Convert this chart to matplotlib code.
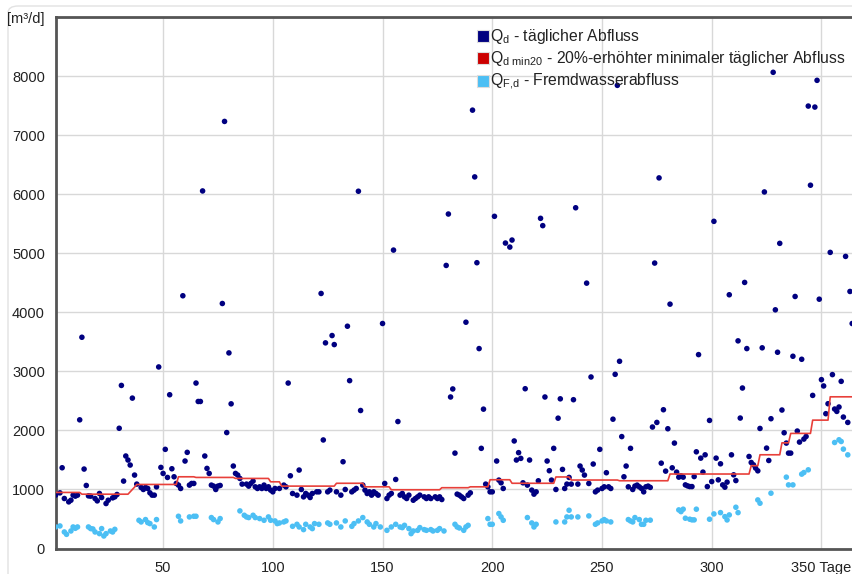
import numpy as np
import matplotlib
matplotlib.use("Agg")
import matplotlib.pyplot as plt
from matplotlib.lines import Line2D
from matplotlib.patches import FancyBboxPatch

plt.rcParams['font.family'] = ['Liberation Sans', 'DejaVu Sans']
plt.rcParams['mathtext.fontset'] = 'custom'
plt.rcParams['mathtext.rm'] = 'Liberation Sans'
plt.rcParams['mathtext.it'] = 'Liberation Sans'

# daily outflow Q_d [m³/d]
qd_days = [1, 3, 4, 5, 7, 8, 9, 10, 11, 12, 13, 14, 15, 16, 17, 19, 20, 21, 22, 24, 25, 27, 28, 29, 30,
           31, 32, 33, 34, 35, 36, 37, 38, 40, 41, 42, 43, 44, 45, 46, 47, 48, 49, 50, 51, 52, 53, 54, 55,
           56, 57, 58, 59, 60, 61, 62, 63, 64, 65, 66, 67, 68, 69, 70, 71, 72, 73, 74, 75, 76, 77, 78, 79,
           80, 81, 82, 83, 84, 85, 86, 88, 89, 90, 91, 92, 93, 94, 95, 96, 97, 98, 99, 100, 101, 103, 105,
           106, 107, 108, 109, 111, 112, 113, 114, 115, 116, 117, 118, 120, 121, 122, 123, 124, 125, 126,
           127, 128, 129, 131, 132, 133, 134, 135, 136, 137, 138, 139, 140, 141, 142, 143, 144, 145, 146,
           147, 148, 150, 151, 152, 153, 154, 155, 156, 157, 158, 159, 160, 161, 162, 164, 165, 166, 167,
           169, 170, 171, 172, 174, 175, 176, 177, 179, 180, 181, 182, 183, 184, 185, 186, 187, 188, 189,
           190, 191, 192, 193, 194, 195, 196, 197, 198, 199, 200, 201, 202, 203, 204, 205, 206, 208, 209,
           210, 211, 212, 213, 214, 215, 216, 217, 218, 219, 220, 221, 222, 223, 224, 225, 226, 227, 228,
           229, 230, 231, 232, 233, 234, 235, 236, 237, 238, 239, 240, 241, 242, 243, 244, 245, 246, 247,
           248, 249, 250, 251, 252, 253, 254, 255, 256, 257, 258, 259, 260, 261, 262, 263, 264, 265, 266,
           267, 268, 269, 270, 271, 272, 273, 274, 275, 276, 277, 278, 279, 280, 281, 282, 283, 284, 285,
           286, 287, 288, 289, 290, 291, 292, 293, 294, 295, 296, 297, 298, 299, 300, 301, 302, 303, 304,
           305, 306, 307, 308, 309, 310, 311, 312, 313, 314, 315, 316, 317, 318, 319, 320, 321, 322, 323,
           324, 325, 326, 327, 328, 329, 330, 331, 332, 333, 334, 335, 336, 337, 338, 339, 340, 341, 342,
           343, 344, 345, 346, 347, 348, 349, 350, 351, 352, 353, 354, 355, 356, 357, 358, 359, 360, 361,
           362, 363, 364]
qd_values = [904, 943, 1368, 847, 790, 818, 904, 887, 904, 2180, 3579, 1346, 1068, 892, 887, 847, 807, 932,
             864, 762, 818, 858, 875, 915, 2037, 2763, 1142, 1567, 1499, 1414, 2548, 1244, 1091, 1034, 1000,
             1034, 1017, 943, 904, 904, 1045, 3076, 1374, 1272, 1680, 1204, 2605, 1351, 1215, 1102, 1074,
             1017, 4282, 1482, 1629, 1074, 1102, 1102, 2803, 2491, 2491, 6058, 1567, 1357, 1272, 1074, 1057,
             1000, 1057, 1068, 4151, 7236, 1964, 3314, 2451, 1397, 1272, 1244, 1187, 1091, 1091, 1057, 1102,
             1142, 1045, 1017, 1045, 1017, 1074, 1017, 1045, 989, 960, 1017, 1017, 1074, 1045, 2803, 1232,
             932, 904, 1329, 1000, 875, 932, 904, 864, 932, 960, 960, 4321, 1839, 3484, 960, 989, 3608, 3455,
             960, 904, 1470, 1000, 3766, 2844, 960, 989, 1017, 6053, 2338, 1074, 989, 932, 960, 904, 960,
             932, 904, 3812, 1102, 847, 904, 932, 5056, 1170, 2151, 904, 932, 875, 847, 904, 818, 847, 875,
             904, 875, 847, 875, 847, 875, 847, 875, 830, 4796, 5667, 2567, 2703, 1616, 921, 904, 875, 847,
             3834, 904, 943, 7427, 6296, 4842, 3387, 1697, 2361, 1091, 1045, 960, 960, 5628, 1482, 1159,
             1113, 1017, 5175, 5107, 5226, 1822, 1499, 1624, 1527, 1113, 2707, 1074, 1499, 989, 921, 960,
             1147, 5594, 5470, 2567, 1482, 1318, 1159, 1697, 1000, 2208, 2536, 1340, 1017, 1091, 1204, 1091,
             2521, 5773, 1091, 1397, 1329, 1244, 4496, 1102, 2906, 1431, 960, 989, 1680, 1017, 1045, 1284,
             1045, 1017, 2191, 2951, 7847, 3172, 1896, 1215, 1397, 1045, 1697, 1000, 1057, 1074, 1045, 1017,
             960, 1045, 1057, 1035, 2058, 4836, 2136, 6279, 1446, 2351, 1311, 2029, 4140, 1367, 1786, 1294,
             1209, 1231, 1209, 1078, 1061, 1049, 1049, 1219, 1638, 3285, 1531, 1294, 1587, 1049, 2170, 1134,
             5543, 1531, 1163, 1435, 1078, 1039, 1124, 4299, 1587, 1248, 1151, 3518, 2210, 2719, 4508, 3387,
             1559, 1457, 1418, 1362, 1316, 2034, 3400, 6041, 1701, 1491, 2199, 8068, 4044, 3325, 5170, 2346,
             1961, 1786, 1616, 1616, 3257, 4270, 1990, 1803, 3206, 1854, 1898, 7496, 6155, 2594, 7479, 7932,
             4224, 2861, 2754, 2284, 2453, 5017, 2946, 2363, 2323, 2397, 2832, 2227, 4949, 2136, 4355, 3812]

# infiltration (Fremdwasser) outflow Q_F,d [m³/d]
qf_days = [1, 3, 5, 6, 8, 9, 10, 11, 16, 17, 18, 19, 21, 22, 23, 24, 26, 27, 28, 39, 40, 42, 43, 44, 46, 47,
           57, 58, 62, 64, 65, 72, 73, 75, 76, 85, 87, 88, 89, 91, 92, 94, 96, 98, 99, 101, 102, 103, 105,
           106, 109, 111, 112, 114, 115, 117, 118, 119, 121, 125, 126, 129, 131, 133, 136, 137, 139, 141,
           143, 144, 146, 147, 149, 152, 154, 156, 158, 159, 160, 162, 163, 164, 166, 167, 169, 170, 172,
           173, 175, 176, 178, 183, 184, 185, 187, 188, 189, 198, 199, 200, 203, 204, 205, 216, 218, 219,
           220, 229, 233, 234, 235, 236, 239, 244, 247, 248, 250, 251, 252, 254, 262, 263, 264, 265, 267,
           268, 269, 270, 272, 285, 286, 287, 288, 290, 291, 292, 293, 299, 301, 304, 306, 307, 308, 311,
           312, 321, 322, 327, 334, 335, 337, 341, 342, 344, 356, 358, 359, 360, 362]
qf_values = [365, 382, 280, 240, 297, 365, 342, 365, 365, 337, 331, 280, 252, 337, 212, 252, 297, 280, 325,
             478, 450, 490, 439, 422, 365, 490, 546, 467, 535, 546, 546, 524, 490, 450, 507, 637, 563, 535,
             524, 563, 524, 507, 478, 535, 478, 467, 422, 433, 450, 467, 376, 410, 365, 320, 410, 365, 337,
             422, 410, 433, 410, 433, 365, 467, 376, 422, 467, 524, 450, 410, 365, 422, 365, 308, 365, 410,
             365, 354, 393, 337, 252, 297, 308, 354, 320, 308, 320, 297, 308, 337, 297, 410, 365, 348, 308,
             365, 393, 507, 410, 410, 592, 535, 478, 524, 433, 365, 410, 450, 450, 535, 648, 535, 535, 552,
             410, 433, 467, 490, 467, 450, 490, 467, 450, 524, 490, 410, 410, 478, 480, 654, 625, 666, 513,
             496, 485, 485, 666, 496, 586, 608, 540, 484, 569, 699, 608, 823, 767, 937, 1209, 1078, 1078,
             1260, 1287, 1333, 1796, 1842, 1813, 1684, 1587]

# 20 % increased minimal daily outflow Q_d,min20: level valid from the given day on
qmin_start_days = [1, 13, 35, 36, 37, 38, 57, 65, 83, 99, 104, 129, 142, 154, 177, 190, 199, 209, 229,
                   236, 258, 281, 318, 322, 332, 336, 346, 354]
qmin_levels = [950, 920, 960, 1000, 1040, 1085, 1215, 1204, 1187, 1130, 1057, 1105, 1045, 995, 1030, 1045,
               1165, 1105, 1212, 1160, 1148, 1262, 1403, 1588, 1790, 1950, 2175, 2570]
last_day = 365

y_ticks = [0, 1000, 2000, 3000, 4000, 5000, 6000, 7000, 8000, 9000]
y_labels = ['0', '1000', '2000', '3000', '4000', '5000', '6000', '7000', '8000', '[m³/d]']
x_ticks = [50, 100, 150, 200, 250, 300, 350]
x_labels = ['50', '100', '150', '200', '250', '300', '350 Tage']

C_QD = '#000080'
C_QF = '#4cbff4'
C_MIN = '#e8403a'
C_MIN_LEG = '#cc0000'

fig = plt.figure(figsize=(8.52, 5.74), dpi=100)
W, H = 852, 574

# light rounded frame around the chart area
fig.patches.append(FancyBboxPatch((8 / W, -0.2), 1.3, (574 - 6) / H + 0.2,
                                  boxstyle='round,pad=0,rounding_size=0.012',
                                  transform=fig.transFigure, facecolor='white',
                                  edgecolor='#e2e2e2', lw=1.0, zorder=-10))

ax = fig.add_axes([56 / W, 1 - 548.5 / H, 1 - 56 / W + 0.002, (548.5 - 17.3) / H])
ax.set_xlim(1.2, 364.7)
ax.set_ylim(0, 9000)

# step line of the minimal outflow, one value per day
spans = np.diff(qmin_start_days + [last_day + 1])
qmin_daily = np.repeat(qmin_levels, spans)
qmin_x = np.arange(qmin_start_days[0], last_day + 1)

ax.scatter(qf_days, qf_values, s=16, color=C_QF, edgecolors='none', zorder=3)
ax.scatter(qd_days, qd_values, s=16, color=C_QD, edgecolors='none', zorder=4)
ax.plot(qmin_x, qmin_daily, color=C_MIN, lw=1.2, zorder=5)

ax.set_xticks(x_ticks)
ax.set_xticklabels(x_labels)
ax.set_yticks(y_ticks)
ax.set_yticklabels(y_labels)
ax.tick_params(axis='both', length=0, labelsize=10.5, labelcolor='#222222')
ax.tick_params(axis='x', pad=9)
ax.tick_params(axis='y', pad=8)
ax.grid(True, color='#d8d8d8', lw=1.0, zorder=0)
ax.set_axisbelow(True)

for side in ('left', 'top', 'bottom'):
    ax.spines[side].set_color('#555555')
    ax.spines[side].set_linewidth(2.0)
ax.spines['right'].set_visible(False)

def legend_square(color):
    return Line2D([], [], ls='none', marker='s', markersize=8.2, markerfacecolor=color,
                  markeredgecolor='#dddddd', markeredgewidth=0.8)

handles = [legend_square(C_QD), legend_square(C_MIN_LEG), legend_square(C_QF)]
labels = [
    r'Q$_{\mathrm{d}}$ - täglicher Abfluss',
    r'Q$_{\mathrm{d\ min20}}$ - 20%-erhöhter minimaler täglicher Abfluss',
    r'Q$_{\mathrm{F{,}d}}$ - Fremdwasserabfluss',
]
leg = fig.legend(handles, labels, loc='upper left', bbox_to_anchor=(477 / W, 1 - 27 / H),
                 frameon=False, fontsize=11.3, handlelength=0.75, handletextpad=0.1,
                 labelspacing=0.22, borderaxespad=0, borderpad=0)
for t in leg.get_texts():
    t.set_color('#222222')

fig.savefig('out.png', dpi=100)
